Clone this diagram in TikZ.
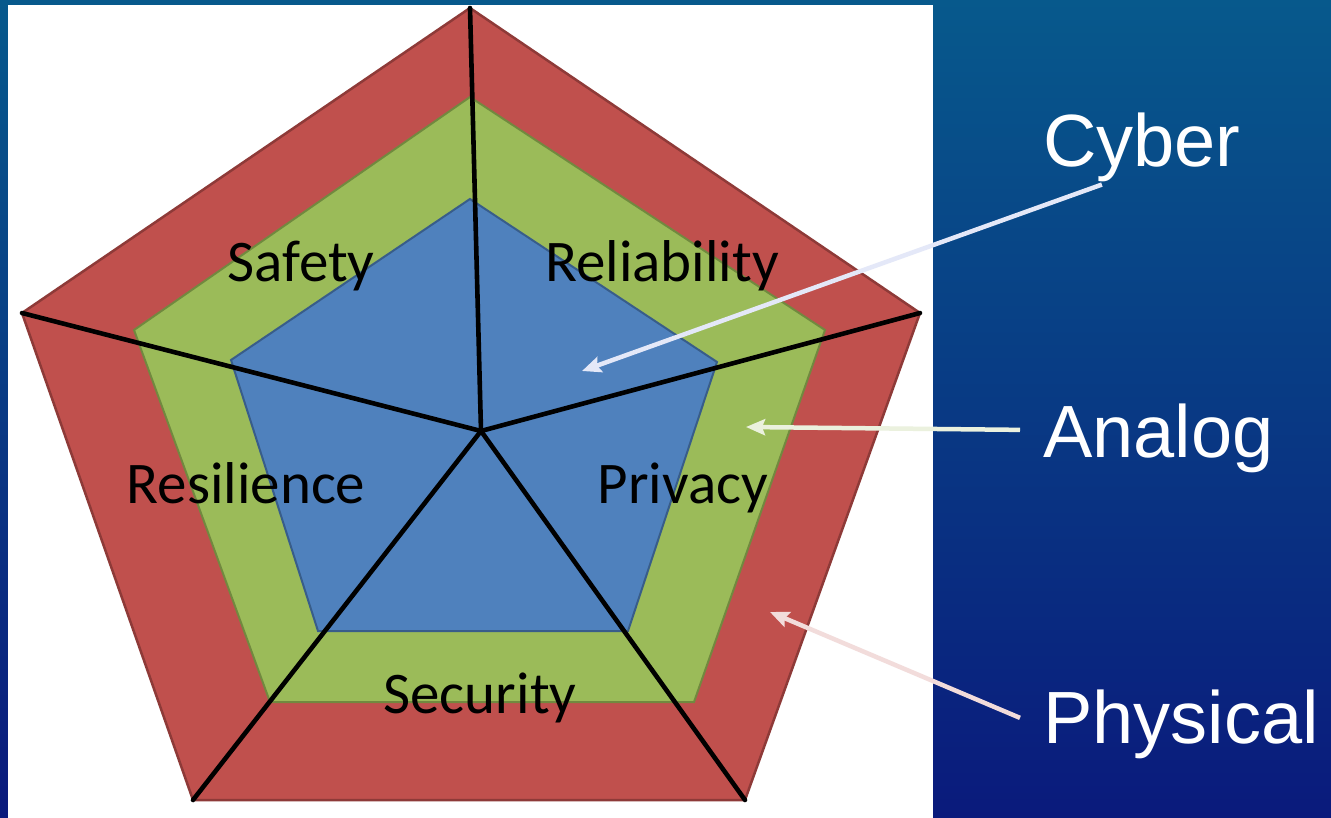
\documentclass[tikz,border=0pt]{standalone}
\usepackage{fontspec}
\usetikzlibrary{arrows.meta}
\newfontfamily\calibri{Carlito}
\newfontfamily\arial{Liberation Sans}
\definecolor{skytop}{HTML}{07598C}
\definecolor{skymid}{HTML}{0A3C88}
\definecolor{skybot}{HTML}{0A1A7C}
\definecolor{ringred}{HTML}{C0504D}
\definecolor{ringredline}{HTML}{8E3A38}
\definecolor{ringgreen}{HTML}{9BBB59}
\definecolor{ringgreenline}{HTML}{71893F}
\definecolor{ringblue}{HTML}{4F81BD}
\definecolor{ringblueline}{HTML}{385D8A}
\definecolor{tipcyber}{HTML}{E4E8F8}
\definecolor{tipanalog}{HTML}{EBF1DE}
\definecolor{tipphys}{HTML}{F2DCDB}
\tikzset{
  spoke/.style={line width=4.6pt, line cap=round},
  quality/.style={font=\calibri\fontsize{59}{67}\selectfont, anchor=base, inner sep=0pt},
  layer/.style={font=\arial\fontsize{74}{84}\selectfont, text=white, anchor=base west,
    inner xsep=23pt, inner ysep=2pt},
  pointer/.style={line width=4.5pt, -{Stealth[length=19pt,width=16pt,inset=3pt]}}
}

\begin{document}
\begin{tikzpicture}[x=1pt, y=-1pt]
		%%%%% START %%%%%

		% slide background and the white card
		\shade[top color=skytop, middle color=skymid, bottom color=skybot] (0,0) rectangle (1331,818);
		\fill[white] (8,5) rectangle (933,818);
		\useasboundingbox (0,0) rectangle (1331,818);

		% outer vertices and centre of the pentagon
		\coordinate (top) at (470,8);
		\coordinate (left) at (22,313);
		\coordinate (right) at (920,313);
		\coordinate (botleft) at (193,800);
		\coordinate (botright) at (745,800);
		\coordinate (hub) at (481,431);

		% three nested rings
		\draw[fill=ringred, draw=ringredline, line width=2.5pt, line join=miter]
			(top) -- (right) -- (botright) -- (botleft) -- (left) -- cycle;
		\draw[fill=ringgreen, draw=ringgreenline, line width=2pt]
			(470,97) -- (825,330) -- (694,702) -- (270,702) -- (134,330) -- cycle;
		\draw[fill=ringblue, draw=ringblueline, line width=2pt]
			(470,199) -- (717,362) -- (628,631) -- (318,631) -- (231,360) -- cycle;

		% spokes
		\foreach \v in {top,right,botright,botleft,left}
			\draw[spoke] (hub) -- (\v);

		% qualities
		\node[quality] (safety) at (301,282) {Safety};
		\node[quality] (reliability) at (662,282) {Reliability};
		\node[quality] (resilience) at (246,503) {Resilience};
		\node[quality] (privacy) at (683,503) {Privacy};
		\node[quality] (security) at (480,713) {Security};

		% layer names and their pointers
		\node[layer] (cyber) at (1020,167) {Cyber};
		\node[layer] (analog) at (1020,457) {Analog};
		\node[layer] (physical) at (1020,743) {Physical};

		\coordinate (cybertip) at (582,371);
		\coordinate (analogtip) at (746,427);
		\coordinate (physicaltip) at (770,612);

		% shifts below are in page units, so a positive yshift goes up
		\draw[pointer, tipcyber] ([xshift=-40pt]cyber.south) -- (cybertip);
		\draw[pointer, tipanalog] ([yshift=8pt]analog.west) -- (analogtip);
		\draw[pointer, tipphys] ([yshift=6pt]physical.west) -- (physicaltip);

		%%%%% END %%%%%
	\end{tikzpicture}
\end{document}
